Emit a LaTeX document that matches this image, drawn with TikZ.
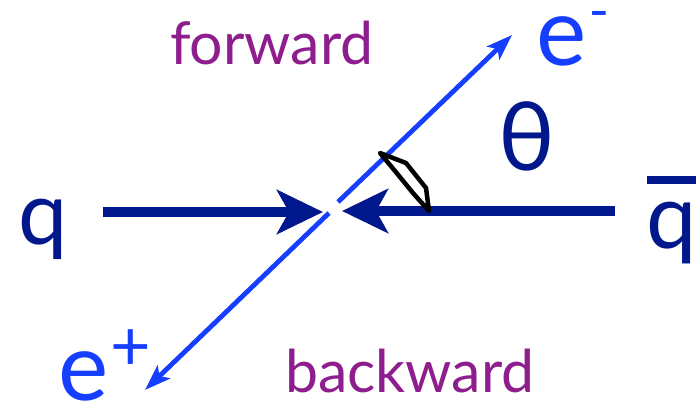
\documentclass[tikz,border=0pt]{standalone}
\usepackage{fontspec}
\setmainfont{Lato}
\usetikzlibrary{arrows.meta}
\definecolor{navy}{RGB}{0,24,140}
\definecolor{eblue}{RGB}{22,62,255}
\definecolor{purp}{RGB}{142,30,142}
\tikzset{
  lbl/.style={inner sep=0pt, anchor=base west},
  thickarr/.style={navy, line width=10.5pt, -{Stealth[length=46pt, width=44pt, inset=12pt]}},
  thinarr/.style={eblue, line width=4.8pt, -{Stealth[length=26pt, width=18pt, inset=6pt]}},
  anglemark/.style={black, line width=4.5pt, line join=round}
}
\begin{document}
\begin{tikzpicture}[x=1pt,y=-1pt]
\useasboundingbox (0,0) rectangle (697,406);
% labels
\node[lbl, text=purp, font=\fontsize{59}{60}\selectfont] (fw) at (170,65) {forward};
\node[lbl, text=purp, font=\fontsize{59}{60}\selectfont] (bw) at (285,393) {backward};
\node[lbl, text=navy, font=\fontsize{88}{90}\selectfont] (ql) at (18,245) {q};
\node[lbl, text=navy, font=\fontsize{90}{90}\selectfont] (qr) at (646,249) {q};
\node[lbl, text=navy, font=\fontsize{95}{95}\selectfont] (th) at (498,171) {θ};
\node[lbl, text=eblue, font=\fontsize{95}{95}\selectfont] (em) at (536,66) {e\hspace{3pt}\raisebox{34pt}{\fontsize{34}{34}\selectfont\scalebox{1}[1.8]{–}}};
\node[lbl, text=eblue, font=\fontsize{95}{95}\selectfont] (ep) at (58,401) {e\hspace{2pt}\raisebox{30pt}{\fontsize{70}{70}\selectfont +}};
% bar of q-bar
\coordinate (qbl) at ([xshift=1pt, yshift=22pt]qr.north west);
\coordinate (qbr) at ([xshift=-1pt, yshift=22pt]qr.north east);
\draw[navy, line width=8pt] (qbl) -- (qbr);
% quark arrows
\coordinate (qs) at (103,212);
\coordinate (qt) at (323,212);
\coordinate (as) at (615,211);
\coordinate (at) at (342,211);
\draw[thickarr] (qs) -- (qt);
\draw[thickarr] (as) -- (at);
% lepton line with gap
\coordinate (eplus) at (145,390);
\coordinate (gl) at (329,213);
\coordinate (gu) at (338,202);
\coordinate (eminus) at (512,35);
\draw[thinarr] (gl) -- (eplus);
\draw[thinarr] (gu) -- (eminus);
% angle marker
\coordinate (m1) at (380,153);
\coordinate (m2) at (406,163);
\coordinate (m3) at (426,188);
\coordinate (m4) at (429,211);
\coordinate (m5) at (413,193);
\coordinate (m6) at (395,171);
\draw[anglemark] (m1) -- (m2) -- (m3) -- (m4) -- (m5) -- (m6) -- cycle;
\end{tikzpicture}
\end{document}
